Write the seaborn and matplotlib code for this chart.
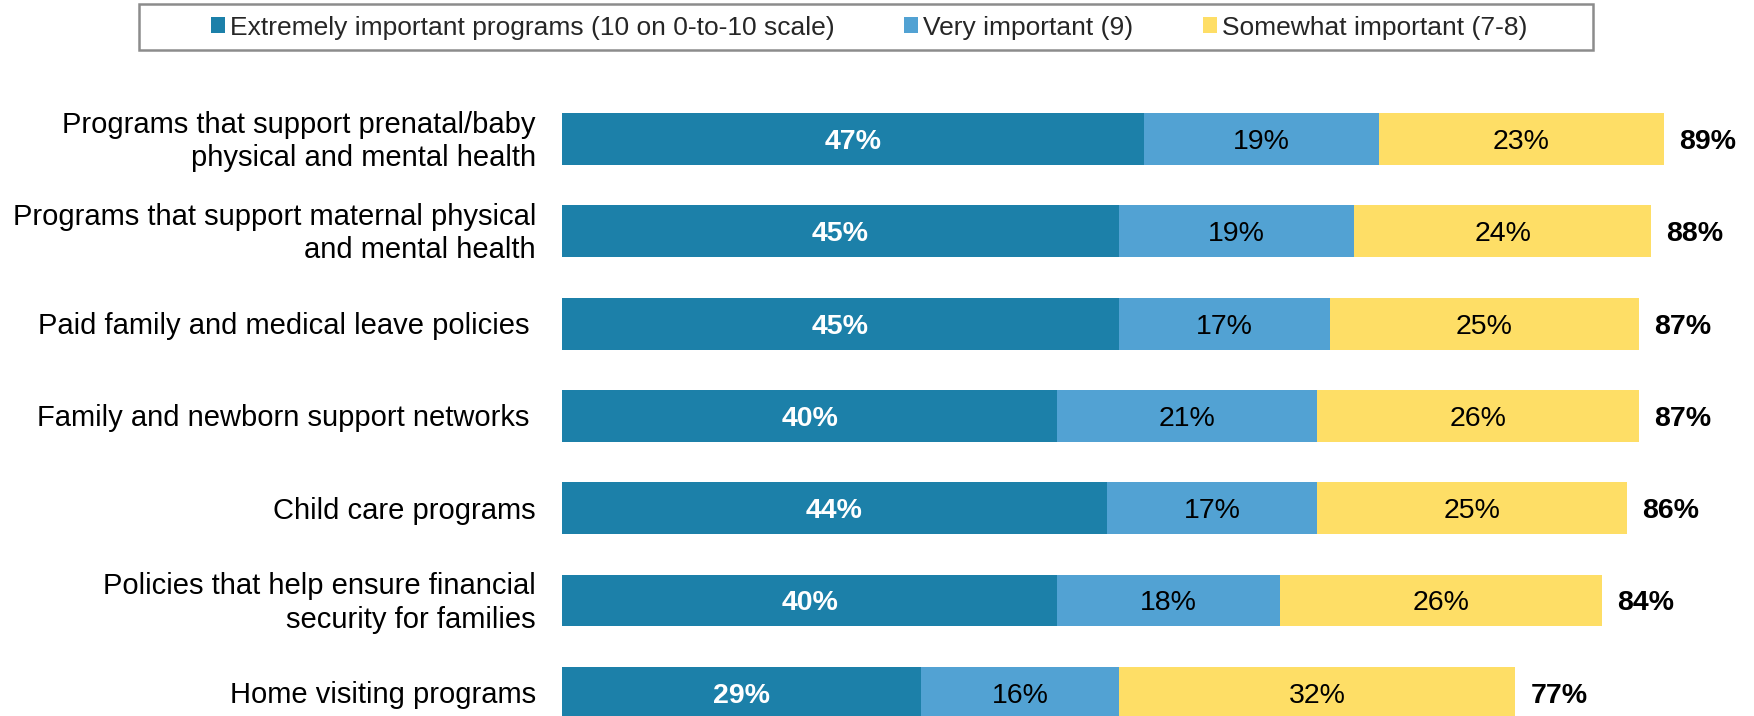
import matplotlib
matplotlib.use("Agg")
import matplotlib.pyplot as plt
from matplotlib.patches import Patch, Rectangle
from matplotlib.transforms import ScaledTranslation
import seaborn as sns
import pandas as pd
import numpy as np

categories = [
    "Programs that support prenatal/baby\nphysical and mental health",
    "Programs that support maternal physical\nand mental health",
    "Paid family and medical leave policies",
    "Family and newborn support networks",
    "Child care programs",
    "Policies that help ensure financial\nsecurity for families",
    "Home visiting programs",
]
extremely = [47, 45, 45, 40, 44, 40, 29]
very = [19, 19, 17, 21, 17, 18, 16]
somewhat = [23, 24, 25, 26, 25, 26, 32]
totals = [89, 88, 87, 87, 86, 84, 77]
legend_labels = [
    "Extremely important programs (10 on 0-to-10 scale)",
    "Very important (9)",
    "Somewhat important (7-8)",
]
c_dark = "#1C80A9"
c_light = "#52A2D3"
c_yellow = "#FEDE66"

sns.set_theme(style="white")
plt.rcParams["font.family"] = ["Liberation Sans", "DejaVu Sans"]

W, H = 1754, 716
fig = plt.figure(figsize=(W / 100, H / 100), dpi=100)
x0 = 562
ppu = 12.38
ax = fig.add_axes([x0 / W, 0, 1 - x0 / W, 1])

df = pd.DataFrame({
    "cat": categories,
    "e": extremely,
    "v": very,
    "s": somewhat,
})
df["c2"] = df["e"] + df["v"]
df["c3"] = df["c2"] + df["s"]

bw = 52 / 92.3
for col, color in [("c3", c_yellow), ("c2", c_light), ("e", c_dark)]:
    sns.barplot(data=df, y="cat", x=col, color=color, width=bw, ax=ax,
                orient="h", linewidth=0, saturation=1, errorbar=None)

ax.set_xlim(0, (W - x0) / ppu)
ax.set_ylim((H - 139) / 92.3, -139 / 92.3)
ax.set_xticks([])
ax.set_yticks([])
ax.set_xlabel("")
ax.set_ylabel("")
for s in ax.spines.values():
    s.set_visible(False)

fs = 20.5
for i, row in df.iterrows():
    ax.text(row["e"] / 2, i, f"{row['e']}%", ha="center", va="center_baseline",
            color="white", fontsize=fs, fontweight="bold")
    ax.text(row["e"] + row["v"] / 2, i, f"{row['v']}%", ha="center", va="center_baseline",
            color="black", fontsize=fs)
    ax.text(row["c2"] + row["s"] / 2, i, f"{row['s']}%", ha="center", va="center_baseline",
            color="black", fontsize=fs)
    ax.text(row["c3"] + 15 / ppu, i, f"{totals[i]}%", ha="left", va="center_baseline",
            color="black", fontsize=fs, fontweight="bold")

# category labels
for i, cat in enumerate(categories):
    off = 26 if i not in (2, 3) else 33
    tr = ax.get_yaxis_transform() + ScaledTranslation(-off / 100, -2.5 / 100, fig.dpi_scale_trans)
    ax.text(0, i, cat, transform=tr, ha="right", va="center", fontsize=21,
            linespacing=1.23, color="black", multialignment="right")

# legend frame
fig.patches.append(Rectangle((139 / W, 1 - 50 / H), (1593 - 139) / W, 45.5 / H,
                             transform=fig.transFigure, fill=False,
                             edgecolor="#8c8c8c", linewidth=1.8))
handles = [Patch(facecolor=c, edgecolor="none") for c in (c_dark, c_light, c_yellow)]
leg = fig.legend(handles, legend_labels, loc="center",
                 bbox_to_anchor=((208 + 1530) / 2 / W, 1 - 27.5 / H),
                 ncol=3, frameon=False, fontsize=19, handlelength=0.53,
                 handleheight=0.53, handletextpad=0.18, columnspacing=2.65,
                 borderpad=0, borderaxespad=0)

fig.savefig("out.png", dpi=100)
